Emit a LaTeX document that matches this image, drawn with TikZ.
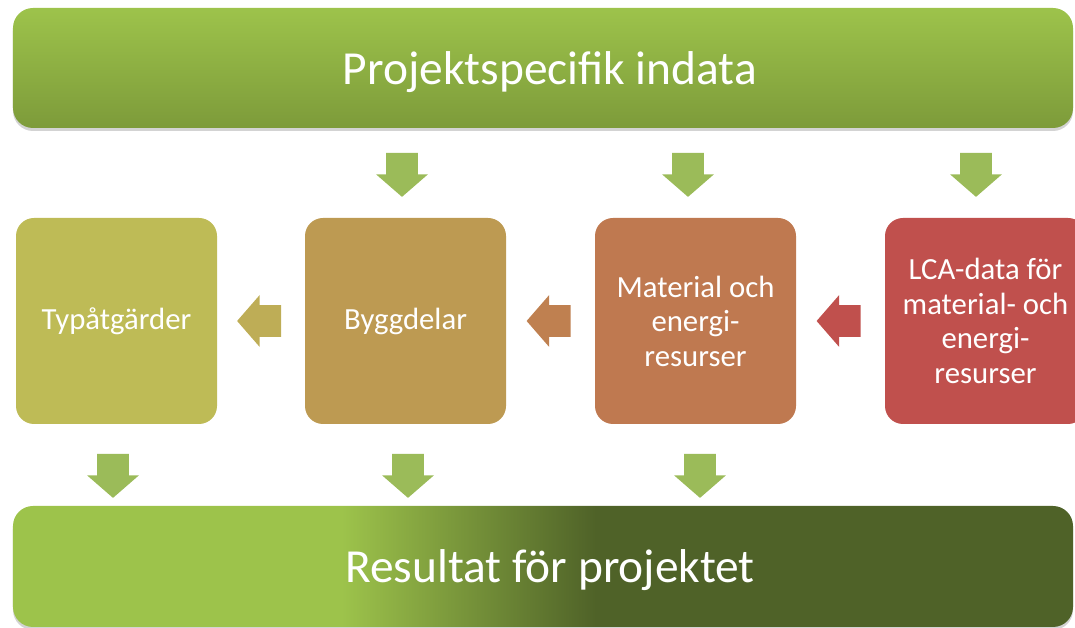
\documentclass[tikz,border=0pt]{standalone}
\usepackage{fontspec}
\setmainfont{Carlito}
\usetikzlibrary{positioning,shapes.arrows,shadows,calc}
\definecolor{grnlight}{HTML}{9DC34B}
\definecolor{grnmid}{HTML}{7D9B3A}
\definecolor{grndark}{HTML}{4F6228}
\definecolor{arrgrn}{HTML}{9BBB59}
\definecolor{boxolive}{HTML}{BEBB56}
\definecolor{boxochre}{HTML}{BD9A52}
\definecolor{boxrust}{HTML}{BF7950}
\definecolor{boxbrick}{HTML}{C0504D}
\definecolor{arrolive}{HTML}{BEAD56}
\definecolor{arrrust}{HTML}{BF8050}
\pgfdeclarehorizontalshading{resultshade}{100bp}{color(0bp)=(grnlight); color(40.5bp)=(grnlight); color(52.5bp)=(grndark); color(100bp)=(grndark)}

\begin{document}
\begin{tikzpicture}[
          every node/.style={text=white,font=\fontsize{17.5}{19.6}\selectfont},
          bar/.style={rectangle,rounded corners=0.4cm,minimum width=21.2cm,
                      minimum height=2.4cm,text depth=0pt,
                      drop shadow={shadow xshift=0pt,shadow yshift=-0.06cm,opacity=0.35},
                      font=\fontsize{27}{32}\selectfont},
          stepbox/.style={rectangle,rounded corners=0.36cm,minimum width=4.02cm,
                      minimum height=4.12cm,align=center},
          blockarr/.style={single arrow,minimum height=0.88cm,
                      single arrow head extend=0.2cm,single arrow tip angle=98},
          downarr/.style={blockarr,shape border rotate=270,fill=arrgrn,
                      inner xsep=0.31cm,inner ysep=0pt,yshift=0.14cm},
          leftarr/.style={blockarr,shape border rotate=180,
                      inner xsep=0pt,inner ysep=0.31cm,xshift=0.1cm},
      ]
        \useasboundingbox (0,0) rectangle (21.5,12.56);

        \node[bar,top color=grnlight,bottom color=grnmid] (inp) at (10.86,11.2)
          {\hspace*{0.28cm}Projektspecifik indata};
        \node[bar,shading=resultshade,minimum height=2.42cm] (res) at (10.86,1.23)
          {\hspace*{0.28cm}Resultat för projektet};

        \node[stepbox,fill=boxolive] (typ) at (2.33,6.14) {Typåtgärder};
        \node[stepbox,fill=boxochre] (byg) at (8.11,6.14) {Byggdelar};
        \node[stepbox,fill=boxrust]  (mat) at (13.91,6.14) {Material och\\energi-\\resurser};
        \node[stepbox,fill=boxbrick] (lca) at (19.71,6.14)
          {LCA-data för\\material- och\\energi-\\resurser};

        % from input
        \node[downarr] (d1) at (8.04,9.06) {};
        \node[downarr] (d2) at (13.76,9.06) {};
        \node[downarr] (d3) at (19.52,9.06) {};

        % between the steps
        \node[leftarr,fill=arrolive] (l1) at ($(typ.east)!0.5!(byg.west)$) {};
        \node[leftarr,fill=arrrust]  (l2) at ($(byg.east)!0.5!(mat.west)$) {};
        \node[leftarr,fill=boxbrick] (l3) at ($(mat.east)!0.5!(lca.west)$) {};

        % to result
        \node[downarr] (u1) at (2.26,3.04) {};
        \node[downarr] (u2) at (8.16,3.04) {};
        \node[downarr] (u3) at (14.0,3.04) {};
      \end{tikzpicture}
\end{document}
